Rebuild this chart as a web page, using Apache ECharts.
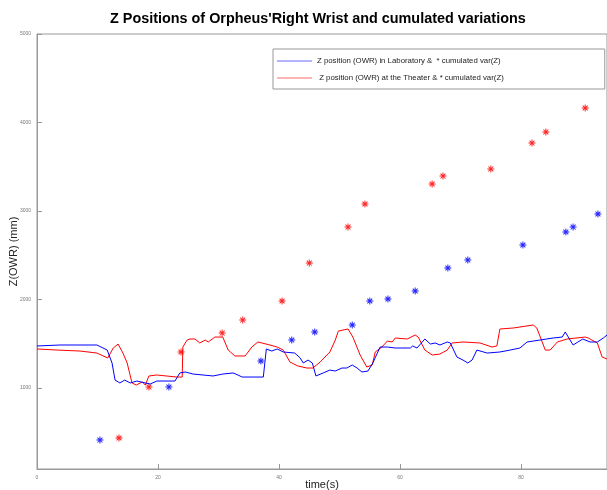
<!DOCTYPE html>
<html>
<head>
<meta charset="utf-8">
<script src="https://cdn.jsdelivr.net/npm/echarts@6/dist/echarts.min.js"></script>
<style>html,body{margin:0;padding:0;background:#fff}#c{width:607px;height:490px}</style>
</head>
<body>
<div id="c"></div>
<script>
const xTicks = [0, 20, 40, 60, 80];
const yTicks = [1000, 2000, 3000, 4000, 5000];

const labLine = [[0,1475],[3.8,1486],[9.9,1486],[11.6,1429],[12.4,1283],[12.9,1090],[13.7,1057],[14.5,1090],[15.4,1057],[16.5,1079],[17.9,1057],[18.7,1045],[19.8,1079],[22.8,1079],[23.6,1170],[24.5,1181],[25.8,1158],[29.1,1136],[30.7,1158],[32.4,1170],[33.2,1147],[33.9,1124],[37.4,1124],[37.9,1441],[38.8,1418],[39.7,1441],[40.7,1407],[42.6,1395],[43.5,1339],[44.0,1283],[44.8,1316],[45.5,1283],[46.1,1136],[47.3,1170],[48.4,1203],[49.3,1192],[50.4,1226],[51.2,1226],[52.1,1260],[52.9,1226],[53.7,1181],[54.7,1192],[55.5,1283],[56.7,1463],[57.9,1463],[59.2,1452],[61.7,1452],[62.1,1475],[62.8,1452],[64.1,1554],[65.0,1497],[65.8,1509],[66.6,1486],[67.8,1520],[68.3,1509],[69.4,1350],[70.4,1316],[71.2,1283],[71.9,1316],[72.7,1429],[74.4,1395],[76.5,1407],[78.2,1429],[79.8,1452],[81.0,1520],[83.1,1542],[85.3,1565],[86.8,1576],[87.3,1633],[87.8,1576],[88.6,1486],[89.4,1520],[90.2,1554],[91.4,1520],[92.6,1520],[93.6,1565],[94.2,1599]];

const theaterLine = [[0,1441],[3.3,1429],[7.1,1418],[9.9,1395],[11.7,1339],[12.6,1452],[13.4,1497],[14.2,1395],[14.9,1283],[15.7,1057],[16.4,1034],[17.4,1068],[17.9,1034],[18.5,1136],[19.8,1147],[23.1,1124],[24.0,1124],[24.1,1463],[24.8,1542],[25.3,1554],[26.1,1554],[26.9,1509],[27.8,1542],[28.3,1520],[29.4,1576],[30.7,1576],[31.6,1429],[32.7,1362],[34.4,1362],[35.5,1463],[36.5,1520],[38.5,1486],[39.7,1463],[40.7,1429],[41.8,1294],[43.1,1249],[44.6,1226],[45.6,1226],[46.8,1294],[48.4,1407],[49.3,1542],[49.8,1644],[51.4,1667],[52.2,1576],[53.4,1373],[54.5,1237],[55.4,1260],[55.9,1407],[57.0,1463],[57.9,1531],[58.7,1520],[59.2,1565],[61.2,1554],[62.5,1599],[63.0,1576],[64.1,1429],[65.3,1373],[66.6,1384],[67.8,1429],[68.6,1509],[70.4,1520],[73.2,1509],[75.2,1463],[76.0,1475],[76.5,1667],[78.7,1678],[82.0,1712],[82.6,1678],[84.0,1429],[84.8,1429],[86.0,1520],[87.6,1554],[90.6,1576],[91.1,1565],[92.6,1509],[93.4,1350],[94.2,1328]];

const labVar = [[10.4,412],[21.8,1011],[37.0,1305],[42.1,1542],[45.9,1633],[52.1,1712],[55.0,1983],[58.0,2006],[62.5,2096],[67.9,2356],[71.2,2446],[80.3,2616],[87.4,2763],[88.6,2819],[92.7,2966]];

const theaterVar = [[13.55,435],[18.5,1011],[23.8,1407],[30.6,1621],[34.0,1768],[40.5,1983],[45.0,2412],[51.4,2819],[54.2,3079],[65.3,3305],[67.1,3395],[75.0,3475],[81.8,3768],[84.1,3893],[90.6,4164]];

const seriesNames = ['Z position (OWR) in Laboratory &  * cumulated var(Z)', ' Z position (OWR) at the Theater & * cumulated var(Z)'];

const star = 'path://M-1,-0.14L1,-0.14L1,0.14L-1,0.14Z M-0.14,-1L0.14,-1L0.14,1L-0.14,1Z M-0.8,-0.6L-0.6,-0.8L0.8,0.6L0.6,0.8Z M0.6,-0.8L0.8,-0.6L-0.6,0.8L-0.8,0.6Z';

const chart = echarts.init(document.getElementById('c'));
chart.setOption({
  animation: false,
  backgroundColor: '#fff',
  title: {
    text: "Z Positions of Orpheus'Right Wrist and cumulated variations",
    left: 105, top: 7,
    textStyle: { fontFamily: 'Liberation Sans', fontSize: 14.4, fontWeight: 'bold', color: '#000' }
  },
  legend: {
    orient: 'vertical', left: 273, top: 49,
    padding: [8, 101, 7, 4],
    itemGap: 9, itemWidth: 35, itemHeight: 1,
    icon: 'rect',
    borderColor: '#999', borderWidth: 1,
    data: seriesNames,
    textStyle: { fontFamily: 'Liberation Sans', fontSize: 7.8, color: '#222' }
  },
  grid: { left: 37, right: 0, top: 34, bottom: 21, show: true, borderColor: '#999', borderWidth: 1,
    backgroundColor: 'transparent', containLabel: false, outerBoundsMode: 'none' },
  xAxis: {
    type: 'value', min: 0, max: 94.2, interval: 20,
    name: 'time(s)', nameLocation: 'middle', nameGap: 10, nameMoveOverlap: false,
    nameTextStyle: { fontFamily: 'Liberation Sans', fontSize: 11, color: '#222' },
    axisLine: { lineStyle: { color: '#999' } },
    axisTick: { inside: true, length: 5, lineStyle: { color: '#999' } },
    axisLabel: { fontSize: 5, color: '#777', margin: 6, fontFamily: 'Liberation Sans',
      customValues: xTicks, formatter: v => String(v) },
    splitLine: { show: false }
  },
  yAxis: {
    type: 'value', min: 85, max: 5000,
    name: 'Z(OWR) (mm)', nameLocation: 'middle', nameGap: 18, nameMoveOverlap: false,
    nameTextStyle: { fontFamily: 'Liberation Sans', fontSize: 11, color: '#222' },
    axisLine: { show: true, lineStyle: { color: '#999' } },
    axisTick: { show: true, inside: true, length: 5, lineStyle: { color: '#999' }, customValues: yTicks },
    axisLabel: { fontSize: 5, color: '#777', margin: 6, fontFamily: 'Liberation Sans', customValues: yTicks,
      formatter: v => String(v) },
    splitLine: { show: false }
  },
  series: [
    { name: seriesNames[0], type: 'line', data: labLine, showSymbol: false, symbol: 'none',
      lineStyle: { color: '#0000ff', width: 1 }, itemStyle: { color: '#6a6aff' }, z: 3 },
    { name: seriesNames[1], type: 'line', data: theaterLine, showSymbol: false, symbol: 'none',
      lineStyle: { color: '#ff0000', width: 1 }, itemStyle: { color: '#ff6a6a' }, z: 2 },
    { name: 'labVar', type: 'scatter', data: labVar, symbol: star, symbolSize: 7,
      itemStyle: { color: '#0000ff', opacity: 0.85 } },
    { name: 'theaterVar', type: 'scatter', data: theaterVar, symbol: star, symbolSize: 7,
      itemStyle: { color: '#ff0000', opacity: 0.85 } }
  ]
});
</script>
</body>
</html>
